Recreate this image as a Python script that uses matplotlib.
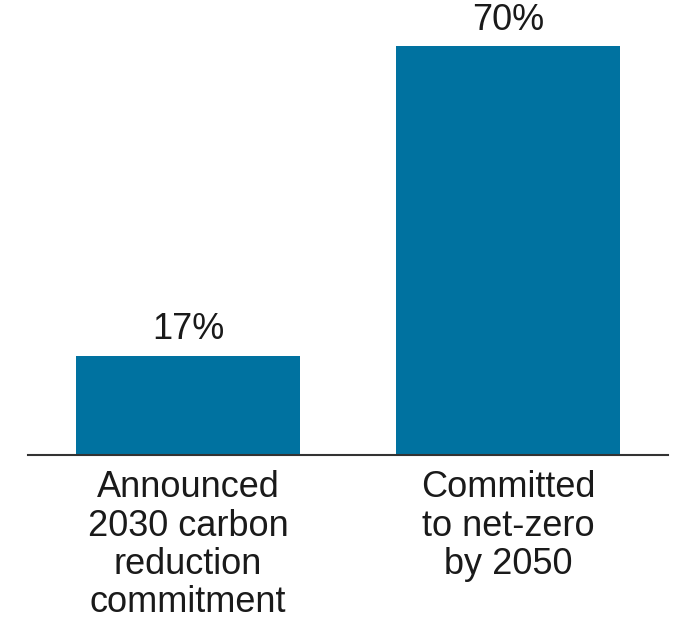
import matplotlib.pyplot as plt

categories = ["Announced\n2030 carbon\nreduction\ncommitment", "Committed\nto net-zero\nby 2050"]
values = [17, 70]
labels = ["17%", "70%"]

plt.rcParams['font.family'] = ['Liberation Sans', 'DejaVu Sans']

fig = plt.figure(figsize=(6.76, 6.22), dpi=100)
ax = fig.add_axes([28 / 676, 167 / 622, 640 / 676, 409 / 622])

x = range(len(values))
bars = ax.bar(x, values, width=0.703, color='#0072a0')

for xi, v, lab in zip(x, values, labels):
    ax.annotate(lab, (xi, v), xytext=(0, 6), textcoords='offset points',
                ha='center', va='bottom', fontsize=26, color='#1a1a1a',
                annotation_clip=False)

ax.set_xlim(-0.5, 1.5)
ax.set_ylim(0, 70)
ax.set_xticks(list(x))
ax.set_xticklabels(categories, fontsize=26, color='#1a1a1a', linespacing=1.12)
ax.tick_params(axis='x', length=0, pad=11)
ax.set_yticks([])
for s in ['top', 'right', 'left']:
    ax.spines[s].set_visible(False)
ax.spines['bottom'].set_color('#333333')
ax.spines['bottom'].set_linewidth(1.5)

fig.savefig('out.png', dpi=100)
